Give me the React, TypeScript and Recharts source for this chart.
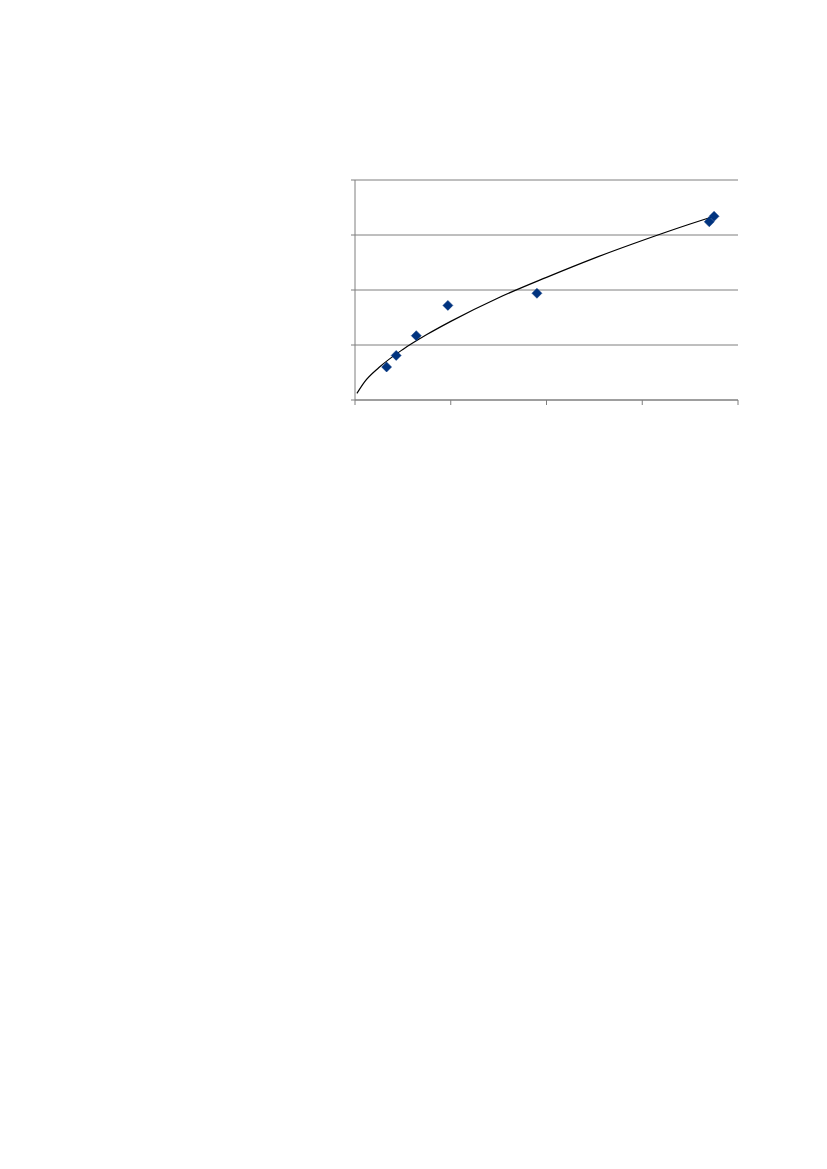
import React from 'react';
import { ComposedChart, Line, Scatter, XAxis, YAxis, CartesianGrid } from 'recharts';

const pointX = [0.33, 0.43, 0.64, 0.97, 1.9, 3.7, 3.75];
const pointY = [0.6, 0.81, 1.17, 1.72, 1.94, 3.24, 3.34];

const trendX = [0.02, 0.1, 0.25, 0.5, 0.75, 1, 1.5, 2, 2.5, 3, 3.5, 3.75];
const trendY = [0.12, 0.33, 0.59, 0.92, 1.19, 1.43, 1.86, 2.23, 2.58, 2.9, 3.2, 3.34];

const ticks = [0, 1, 2, 3, 4];

const points = pointX.map((x, i) => ({ x, y: pointY[i] }));
const trend = trendX.map((x, i) => ({ x, t: trendY[i] }));

const Diamond = (props: any) => {
  const { cx, cy } = props;
  if (cx == null || cy == null) return null;
  const r = 5;
  return (
    <polygon
      points={`${cx},${cy - r} ${cx + r},${cy} ${cx},${cy + r} ${cx - r},${cy}`}
      fill="#00337F"
      stroke="#00337F"
      strokeWidth={0.5}
    />
  );
};

export default function App() {
  return (
    <div style={{ position: 'absolute', left: 0, top: 0, width: 827, height: 1169, background: '#fff' }}>
      <ComposedChart
        width={760}
        height={420}
        margin={{ top: 180, left: 345, right: 22, bottom: 10 }}
      >
        <CartesianGrid horizontal vertical={false} stroke="#7f7f7f" strokeWidth={1} />
        <XAxis
          dataKey="x"
          type="number"
          domain={[0, 4]}
          ticks={ticks}
          height={10}
          tickFormatter={() => ''}
          stroke="#7f7f7f"
          tickSize={5}
          allowDataOverflow
        />
        <YAxis
          type="number"
          domain={[0, 4]}
          ticks={ticks}
          width={10}
          tickFormatter={() => ''}
          stroke="#7f7f7f"
          tickSize={4}
          allowDataOverflow
        />
        <Line
          data={trend}
          dataKey="t"
          type="monotone"
          stroke="#000000"
          strokeWidth={1.2}
          dot={false}
          activeDot={false}
          isAnimationActive={false}
        />
        <Scatter data={points} dataKey="y" shape={<Diamond />} isAnimationActive={false} />
      </ComposedChart>
    </div>
  );
}
